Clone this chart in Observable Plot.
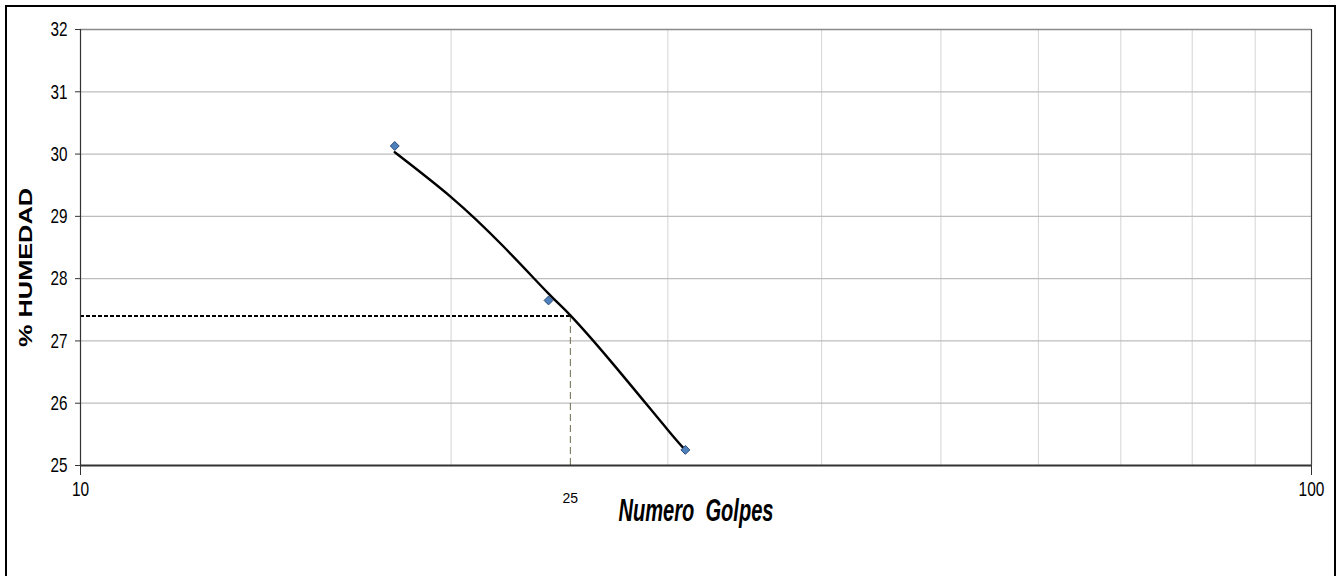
<!DOCTYPE html>
<html>
<head>
<meta charset="utf-8">
<script src="https://cdn.jsdelivr.net/npm/d3@7"></script>
<script src="https://cdn.jsdelivr.net/npm/@observablehq/plot@0.6"></script>
<style>
  html, body { margin: 0; padding: 0; background: #fff; overflow: hidden; }
  #wrap { position: relative; width: 1341px; height: 576px; }
  #border { position: absolute; left: 5px; top: 5px; width: 1331px; height: 700px; border: 2.5px solid #000; box-sizing: border-box; }
  #chart { position: absolute; left: 0; top: 0; }
</style>
</head>
<body>
<div id="wrap">
  <div id="border"></div>
  <div id="chart"></div>
</div>
<script>
// Measured points (Número de golpes vs % humedad)
const golpes = [18, 24, 31];
const humedad = [30.13, 27.65, 25.25];

// Trend curve
const curveGolpes = [18, 20, 22, 24, 25, 27, 30, 31];
const curveHumedad = [30.03, 29.31, 28.54, 27.76, 27.41, 26.66, 25.57, 25.25];

// Reference (liquid limit at 25 blows)
const golpesRef = 25;
const humedadRef = 27.4;

// Axis ticks
const yTicks = [25, 26, 27, 28, 29, 30, 31, 32];
const xLabelTicks = [10, 100];
const xGridTicks = [20, 30, 40, 50, 60, 70, 80, 90];

const xTitle = "Numero  Golpes";
const yTitle = "% HUMEDAD";

const points = golpes.map((g, i) => ({g, h: humedad[i]}));
const curve = curveGolpes.map((g, i) => ({g, h: curveHumedad[i]}));

const font = "Arial, 'Liberation Sans', sans-serif";

const plot = Plot.plot({
  width: 1341,
  height: 576,
  marginLeft: 80,
  marginRight: 30,
  marginTop: 29,
  marginBottom: 111,
  style: { fontFamily: font, background: "transparent", overflow: "visible" },
  x: { type: "log", domain: [10, 100] },
  y: { domain: [25, 32] },
  marks: [
    // gridlines
    Plot.ruleX(xGridTicks, { stroke: "#d4d4d4", strokeWidth: 1 }),
    Plot.ruleY(yTicks.filter(t => t > 25 && t < 32), { stroke: "#bdbdbd", strokeWidth: 1.3 }),
    Plot.ruleY([32], { stroke: "#8a8a8a", strokeWidth: 1.5 }),
    Plot.ruleX([100], { stroke: "#444", strokeWidth: 1.2 }),
    // reference lines
    Plot.ruleX([golpesRef], { y1: 25, y2: humedadRef, stroke: "#6e6b4e", strokeWidth: 1, strokeDasharray: "7,4" }),
    Plot.ruleY([humedadRef], { x1: 10, x2: golpesRef, stroke: "#000", strokeWidth: 1.8, strokeDasharray: "4,2" }),
    // trend curve
    Plot.line(curve, { x: "g", y: "h", curve: "natural", stroke: "#000", strokeWidth: 2.4 }),
    // data points
    Plot.dot(points, { x: "g", y: "h", symbol: "diamond2", r: 4, fill: "#4f81bd", stroke: "#2a4a7a", strokeWidth: 1 }),
    // axes
    Plot.axisY(yTicks, { tickSize: 5, tickPadding: 8, fill: "#000", stroke: "#333", tickFormat: d => String(d), label: null }),
    Plot.ruleX([10], { stroke: "#333", strokeWidth: 1.2 }),
    Plot.ruleY([25], { stroke: "#333", strokeWidth: 1.8 }),
    Plot.axisX(xLabelTicks, { tickSize: 10, tickPadding: 6, fill: "#000", stroke: "#333", tickFormat: d => String(d), label: null }),
    Plot.axisX([golpesRef], { tickSize: 0, tickPadding: 28, fill: "#000", tickFormat: d => String(d), label: null }),
    // axis titles
    Plot.text([xTitle], { frameAnchor: "bottom", dy: 55, fontSize: 31, fontWeight: "bold", fontStyle: "italic", fill: "#000", text: d => d }),
    Plot.text([yTitle], { frameAnchor: "left", textAnchor: "middle", dx: -54, dy: 20, rotate: -90, fontSize: 18, fontWeight: "bold", fill: "#000", text: d => d })
  ]
});

document.getElementById("chart").appendChild(plot);

// Excel-like stretched label text, chosen by content and position
const yTickStr = yTicks.map(String);
const xTickStr = xLabelTicks.map(String);
d3.select(plot).selectAll("text").each(function() {
  const t = this.textContent.trim();
  const r = this.getBoundingClientRect();
  const sel = d3.select(this);
  if (t === xTitle.trim()) {
    sel.attr("textLength", 155).attr("lengthAdjust", "spacingAndGlyphs").style("white-space", "pre");
  } else if (t === yTitle) {
    sel.attr("textLength", 159).attr("lengthAdjust", "spacingAndGlyphs");
  } else if (yTickStr.includes(t) && r.right < 80) {
    sel.style("font-size", "21px").attr("textLength", t.length * 8.5).attr("lengthAdjust", "spacingAndGlyphs");
  } else if (xTickStr.includes(t)) {
    sel.style("font-size", "21px").attr("textLength", t.length * 8.6).attr("lengthAdjust", "spacingAndGlyphs");
  } else if (t === String(golpesRef) && r.top > 470) {
    sel.style("font-size", "14px");
  }
});
</script>
</body>
</html>
